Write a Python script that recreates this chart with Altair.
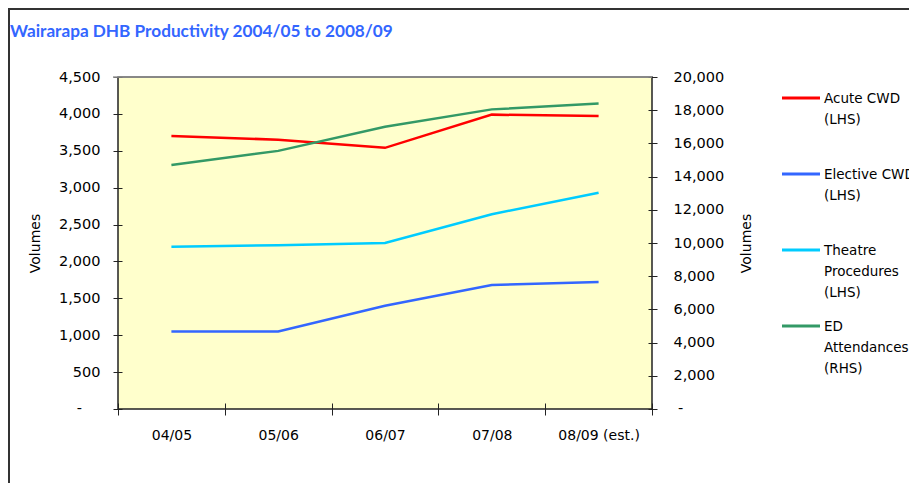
import altair as alt
import pandas as pd

# ---- data ----
categories = ["04/05", "05/06", "06/07", "07/08", "08/09 (est.)"]
acute_cwd = [3700, 3650, 3540, 3990, 3970]
elective_cwd = [1050, 1050, 1400, 1680, 1720]
theatre_proc = [2200, 2220, 2250, 2640, 2930]
ed_attend = [14700, 15550, 17000, 18050, 18400]

series_names = ["Acute CWD", "Elective CWD", "Theatre Procedures", "ED Attendances"]
series_colors = ["#FF0000", "#3366FF", "#00CCFF", "#339966"]
legend_labels = ["Acute CWD\n(LHS)", "Elective CWD\n(LHS)", "Theatre\nProcedures\n(LHS)", "ED\nAttendances\n(RHS)"]
left_ticks = list(range(0, 4501, 500))
right_ticks = list(range(0, 20001, 2000))
zero_label = "-"
title_text = "Wairarapa DHB Productivity 2004/05 to 2008/09"
axis_title = "Volumes"

FONT = "DejaVu Sans"
W, H = 534, 332

lhs = pd.DataFrame({
    "cat": categories * 3,
    "value": acute_cwd + elective_cwd + theatre_proc,
    "series": [series_names[0]] * 5 + [series_names[1]] * 5 + [series_names[2]] * 5,
})
rhs = pd.DataFrame({"cat": categories, "value": ed_attend, "series": series_names[3]})
leg = pd.DataFrame({"series": series_names, "label": legend_labels, "idx": list(range(4))})
one = pd.DataFrame({"t": [title_text]})
zero = pd.DataFrame({"v": [0], "lab": [zero_label]})

color = alt.Color("series:N", scale=alt.Scale(domain=series_names, range=series_colors), legend=None)
xenc = alt.X("cat:N", sort=categories, bandPosition=0.5,
             scale=alt.Scale(type="band", paddingInner=0, paddingOuter=0),
             axis=alt.Axis(title=None, tickBand="extent", offset=-6, tickSize=12, domain=False,
                           labelFont=FONT, labelFontSize=14, labelColor="#000", labelPadding=13,
                           tickColor="#222", labelAngle=0))

left = alt.Chart(lhs).mark_line(strokeWidth=2.5).encode(
    x=xenc,
    y=alt.Y("value:Q", scale=alt.Scale(domain=[0, 4500], nice=False),
            axis=alt.Axis(orient="left", values=left_ticks, grid=False, domain=False, offset=-4,
                          tickSize=9, tickColor="#222", labelPadding=13,
                          labelFont=FONT, labelFontSize=14.5, labelColor="#000",
                          labelExpr="datum.value == 0 ? '' : format(datum.value, ',')",
                          title=axis_title, titleFont=FONT, titleFontSize=14, titleFontWeight="normal",
                          titleColor="#000", titleX=-87, titleY=H / 2, titleAngle=-90,
                          titleAlign="center", titleBaseline="middle")),
    color=color,
)

right = alt.Chart(rhs).mark_line(strokeWidth=2.5).encode(
    x=xenc,
    y=alt.Y("value:Q", scale=alt.Scale(domain=[0, 20000], nice=False),
            axis=alt.Axis(orient="right", values=right_ticks, grid=False, domain=False, offset=-4,
                          tickSize=9, tickColor="#222", labelPadding=16,
                          labelFont=FONT, labelFontSize=14.5, labelColor="#000",
                          labelExpr="datum.value == 0 ? '' : format(datum.value, ',')",
                          title=axis_title, titleFont=FONT, titleFontSize=14, titleFontWeight="normal",
                          titleColor="#000", titleX=98, titleY=H / 2, titleAngle=-90,
                          titleAlign="center", titleBaseline="middle")),
    color=color,
)

zy_left = alt.Y("v:Q", scale=alt.Scale(domain=[0, 4500], nice=False), axis=None)
zy_right = alt.Y("v:Q", scale=alt.Scale(domain=[0, 20000], nice=False), axis=None)
zero_left = alt.Chart(zero).mark_text(align="right", baseline="middle", font=FONT, fontSize=14.5,
                                      color="#000").encode(x=alt.value(-36), y=zy_left, text="lab:N")
zero_right = alt.Chart(zero).mark_text(align="left", baseline="middle", font=FONT, fontSize=14.5,
                                       color="#000").encode(x=alt.value(560), y=zy_right, text="lab:N")

top_line = alt.Chart(one).mark_rule(color="#999999", strokeWidth=1.5).encode(
    x=alt.value(-5), x2=alt.value(W), y=alt.value(0))

legy = alt.Y("idx:Q", scale=alt.Scale(domain=[0, 3], range=[21, 249]), axis=None)
leg_lines = alt.Chart(leg).mark_rule(strokeWidth=3).encode(
    x=alt.value(664), x2=alt.value(702), y=legy, color=color)
leg_text = alt.Chart(leg).mark_text(align="left", baseline="alphabetic", dy=5, lineBreak="\n",
                                    lineHeight=21, font=FONT, fontSize=13.5, color="#000").encode(
    x=alt.value(706), y=legy, text="label:N")

title = alt.Chart(one).mark_text(align="left", baseline="alphabetic", font="Lato", fontSize=17.2,
                                 fontWeight="bold", color="#3366FF").encode(
    x=alt.value(-108), y=alt.value(-40), text="t:N")

frame = alt.Chart(one).mark_rect(fill=None, stroke="#333333", strokeWidth=2, clip=False).encode(
    x=alt.value(-109), y=alt.value(-68), x2=alt.value(W + 300), y2=alt.value(H + 120))

chart = alt.layer(frame, left, right, zero_left, zero_right, top_line, leg_lines, leg_text,
                  title).resolve_scale(
    y="independent"
).properties(
    width=W, height=H,
    padding={"left": 110, "top": 69, "right": 257, "bottom": 74},
    autosize=alt.AutoSizeParams(type="none"),
    background="white",
).configure_view(fill="#FFFFCC", stroke="#222222", strokeWidth=1.5)

chart.save("out.html", embed_options={"renderer": "svg", "actions": False})
